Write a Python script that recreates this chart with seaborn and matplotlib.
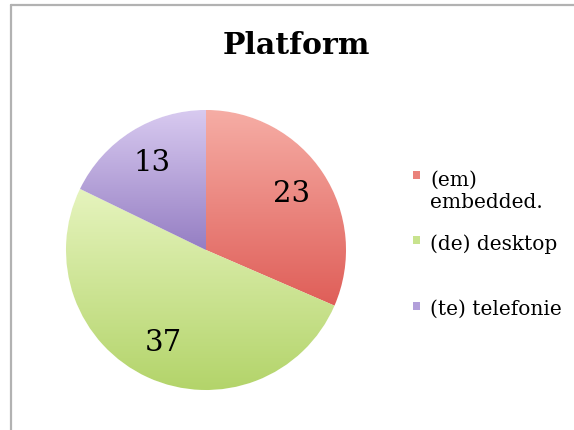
import numpy as np
import matplotlib
matplotlib.use("Agg")
import matplotlib.pyplot as plt
import seaborn as sns
from matplotlib.colors import LinearSegmentedColormap
from matplotlib.patches import Rectangle
from matplotlib.lines import Line2D

sns.set_style("white")
plt.rcParams['font.family'] = ['DejaVu Serif']
plt.rcParams['text.color'] = 'black'

title = "Platform"
categories = ["(em)\nembedded.", "(de) desktop", "(te) telefonie"]
values = [23, 37, 13]
top_colors = ["#F6ADA5", "#E6F4BE", "#D8CAF0"]
bottom_colors = ["#DF5E58", "#B3D46A", "#957EC3"]
mid_colors = ["#EA827B", "#C8E38E", "#B29FDA"]

W, H = 574, 430
fig = plt.figure(figsize=(W/100, H/100), dpi=100)
fig.patch.set_facecolor("white")

# frame (only top/left visible in reference crop)
fig.add_artist(Line2D([11/W, 11/W], [0, 1-5/H], transform=fig.transFigure, color="#B2B2B2", lw=1.6))
fig.add_artist(Line2D([11/W, 1], [1-5/H, 1-5/H], transform=fig.transFigure, color="#B2B2B2", lw=1.6))

cx, cy, r = 206, 250, 140
ax = fig.add_axes([(cx-r)/W, (H-cy-r)/H, 2*r/W, 2*r/H])
wedges, texts, autotexts = ax.pie(
    values, startangle=90, counterclock=False, colors=mid_colors,
    autopct=lambda p: f"{p*sum(values)/100:.0f}", pctdistance=0.73,
    textprops=dict(fontsize=21, color="black"))
ax.set_xlim(-1, 1)
ax.set_ylim(-1, 1)

grad = np.linspace(1, 0, 256).reshape(-1, 1)
for w, tc, bc in zip(wedges, top_colors, bottom_colors):
    ext = w.get_path().get_extents()
    cmap = LinearSegmentedColormap.from_list("g", [bc, tc])
    im = ax.imshow(grad, cmap=cmap, extent=(ext.x0, ext.x1, ext.y0, ext.y1),
                   aspect="auto", zorder=1.5, origin="upper", vmin=0, vmax=1)
    im.set_clip_path(w)
for t in autotexts:
    t.set_zorder(3)
ax.set_xlim(-1, 1)
ax.set_ylim(-1, 1)
ax.axis("off")

fig.text(296/W, 1-45/H, title, ha="center", va="center", fontsize=21.5,
         fontweight="bold", color="black")

# legend
sq_x = 413
sq = 7.5
legend_rows = [(175, 208), (240, 250), (306, 315)]
for (sy, by), lab, c in zip(legend_rows, categories, mid_colors):
    fig.add_artist(Rectangle(((sq_x)/W, 1-(sy+sq/2)/H), sq/W, sq/H,
                             transform=fig.transFigure, facecolor=c, edgecolor="none"))
    fig.text(430/W, 1-by/H, lab, ha="left", va="baseline", fontsize=14.5,
             linespacing=1.2, color="black")

fig.savefig("out.png", dpi=100)
